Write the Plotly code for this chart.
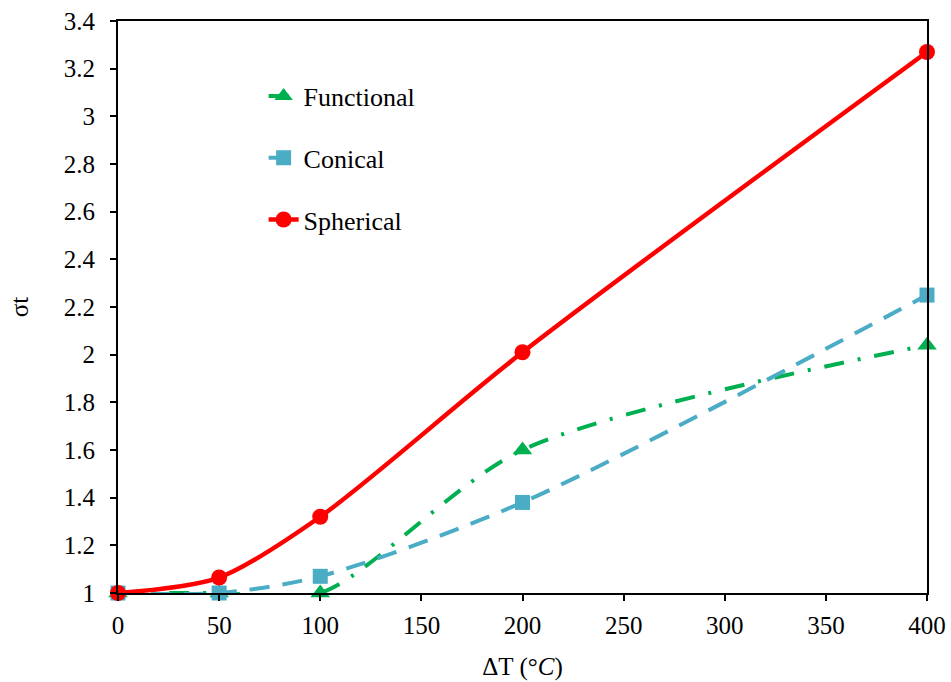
import plotly.graph_objects as go

delta_t = [0, 50, 100, 200, 400]
functional = [1.0, 1.0, 1.0, 1.6, 2.04]
conical = [1.0, 1.0, 1.07, 1.38, 2.25]
spherical = [1.0, 1.065, 1.32, 2.01, 3.27]

x_ticks = [0, 50, 100, 150, 200, 250, 300, 350, 400]
y_ticks = [1, 1.2, 1.4, 1.6, 1.8, 2, 2.2, 2.4, 2.6, 2.8, 3, 3.2, 3.4]
y_tick_labels = ["1", "1.2", "1.4", "1.6", "1.8", "2", "2.2", "2.4", "2.6", "2.8", "3", "3.2", "3.4"]

FONT = "Liberation Serif"

fig = go.Figure()
fig.add_trace(go.Scatter(
    x=delta_t, y=functional, name="Functional", mode="lines+markers",
    line=dict(color="#00B050", width=4, dash="20px,14px,3px,14px", shape="spline", smoothing=0.8),
    marker=dict(symbol="triangle-up", size=17, color="#00B050"),
    cliponaxis=False, legendgroup="f"))
fig.add_trace(go.Scatter(
    x=delta_t, y=conical, name="Conical", mode="lines+markers",
    line=dict(color="#4BACC6", width=4, dash="20px,13px", shape="spline", smoothing=0.8),
    marker=dict(symbol="square", size=15, color="#4BACC6"),
    cliponaxis=False, legendgroup="c"))
fig.add_trace(go.Scatter(
    x=delta_t, y=spherical, name="Spherical", mode="lines+markers",
    line=dict(color="#FF0000", width=4.5, shape="spline", smoothing=0.8),
    marker=dict(symbol="circle", size=16, color="#FF0000"),
    cliponaxis=False, legendgroup="s"))

fig.update_layout(
    width=951, height=682,
    margin=dict(l=118, r=24, t=21, b=89, autoexpand=False),
    paper_bgcolor="white", plot_bgcolor="white",
    font=dict(family=FONT, size=25, color="black"),
    showlegend=True,
    legend=dict(x=0.18, y=0.91, xanchor="left", yanchor="top",
                traceorder="grouped", tracegroupgap=25,
                bgcolor="rgba(0,0,0,0)", font=dict(family=FONT, size=26)),
    xaxis=dict(range=[0, 400], tickvals=x_ticks, showgrid=False, zeroline=False,
               showline=True, linecolor="black", linewidth=2, mirror=True, automargin=False,
               ticks="outside", ticklen=6, tickwidth=1.5, tickcolor="black",
               ticklabelstandoff=3,
               tickfont=dict(family=FONT, size=25),
               title=dict(text="ΔT (°<i>C</i>)", standoff=19, font=dict(family=FONT, size=25))),
    yaxis=dict(range=[1, 3.4], tickvals=y_ticks, ticktext=y_tick_labels, showgrid=False,
               zeroline=False, showline=True, linecolor="black", linewidth=2, mirror=True,
               automargin=False,
               ticks="outside", ticklen=6, tickwidth=1.5, tickcolor="black",
               ticklabelstandoff=10,
               tickfont=dict(family=FONT, size=25),
               title=dict(text="σt", standoff=28, font=dict(family=FONT, size=25))),
)

fig.write_html("out.html", config={"displayModeBar": False},
               post_script="document.body.style.margin='0';")
